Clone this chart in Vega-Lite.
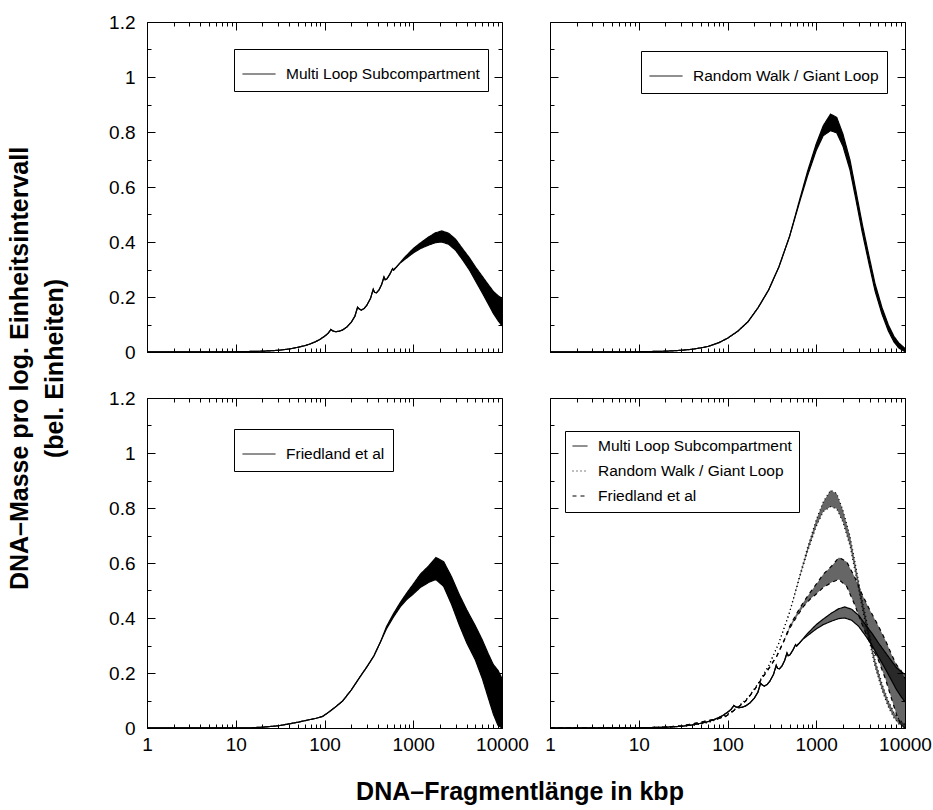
{
  "$schema": "https://vega.github.io/schema/vega-lite/v6.json",
  "padding": {"left": 8, "top": 12, "right": 20, "bottom": 4},
  "config": {
    "font": "Liberation Sans",
    "view": {"stroke": "black", "strokeWidth": 1},
    "axis": {"labelFontSize": 19, "labelFont": "Liberation Sans", "labelColor": "black", "tickColor": "black", "tickWidth": 1, "domain": false, "grid": false, "labelOverlap": false, "labelBound": false},
    "legend": {"strokeColor": "black", "fillColor": "white", "padding": 8, "symbolType": "stroke", "symbolStrokeWidth": 1, "symbolStrokeColor": "black", "labelFontSize": 15.5, "labelFont": "Liberation Sans", "labelColor": "black", "labelOffset": 10, "rowPadding": 5, "labelLimit": 400}
  },
  "resolve": {"scale": {"strokeDash": "independent"}, "legend": {"strokeDash": "independent"}},
  "datasets": {
    "curves": [
      {"s":"ML","x":1,"lo":0.001,"hi":0.001},{"s":"ML","x":2,"lo":0.001,"hi":0.001},{"s":"ML","x":5,"lo":0.001,"hi":0.001},{"s":"ML","x":10,"lo":0.001,"hi":0.001},{"s":"ML","x":15,"lo":0.002,"hi":0.002},{"s":"ML","x":20,"lo":0.003,"hi":0.003},{"s":"ML","x":30,"lo":0.006,"hi":0.006},{"s":"ML","x":40,"lo":0.011,"hi":0.011},{"s":"ML","x":50,"lo":0.017,"hi":0.017},{"s":"ML","x":60,"lo":0.023,"hi":0.023},{"s":"ML","x":70,"lo":0.03,"hi":0.03},{"s":"ML","x":80,"lo":0.038,"hi":0.038},{"s":"ML","x":90,"lo":0.047,"hi":0.047},{"s":"ML","x":100,"lo":0.057,"hi":0.057},{"s":"ML","x":110,"lo":0.068,"hi":0.068},{"s":"ML","x":118,"lo":0.082,"hi":0.082},{"s":"ML","x":123,"lo":0.077,"hi":0.077},{"s":"ML","x":132,"lo":0.074,"hi":0.074},{"s":"ML","x":145,"lo":0.075,"hi":0.075},{"s":"ML","x":160,"lo":0.08,"hi":0.08},{"s":"ML","x":180,"lo":0.092,"hi":0.092},{"s":"ML","x":200,"lo":0.108,"hi":0.108},{"s":"ML","x":220,"lo":0.13,"hi":0.13},{"s":"ML","x":236,"lo":0.163,"hi":0.163},{"s":"ML","x":245,"lo":0.157,"hi":0.157},{"s":"ML","x":260,"lo":0.152,"hi":0.152},{"s":"ML","x":280,"lo":0.158,"hi":0.158},{"s":"ML","x":300,"lo":0.17,"hi":0.17},{"s":"ML","x":330,"lo":0.195,"hi":0.195},{"s":"ML","x":354,"lo":0.228,"hi":0.228},{"s":"ML","x":366,"lo":0.217,"hi":0.217},{"s":"ML","x":385,"lo":0.215,"hi":0.215},{"s":"ML","x":410,"lo":0.225,"hi":0.225},{"s":"ML","x":440,"lo":0.245,"hi":0.245},{"s":"ML","x":468,"lo":0.273,"hi":0.273},{"s":"ML","x":482,"lo":0.263,"hi":0.263},{"s":"ML","x":505,"lo":0.266,"hi":0.266},{"s":"ML","x":545,"lo":0.283,"hi":0.283},{"s":"ML","x":585,"lo":0.303,"hi":0.303},{"s":"ML","x":600,"lo":0.298,"hi":0.298},{"s":"ML","x":650,"lo":0.31,"hi":0.31},{"s":"ML","x":700,"lo":0.322,"hi":0.322},{"s":"ML","x":800,"lo":0.336,"hi":0.344},{"s":"ML","x":900,"lo":0.349,"hi":0.361},{"s":"ML","x":1000,"lo":0.36,"hi":0.376},{"s":"ML","x":1200,"lo":0.376,"hi":0.396},{"s":"ML","x":1500,"lo":0.389,"hi":0.419},{"s":"ML","x":1800,"lo":0.398,"hi":0.434},{"s":"ML","x":2100,"lo":0.4,"hi":0.44},{"s":"ML","x":2500,"lo":0.392,"hi":0.432},{"s":"ML","x":3000,"lo":0.37,"hi":0.41},{"s":"ML","x":3600,"lo":0.335,"hi":0.375},{"s":"ML","x":4300,"lo":0.298,"hi":0.342},{"s":"ML","x":5000,"lo":0.26,"hi":0.31},{"s":"ML","x":6000,"lo":0.215,"hi":0.275},{"s":"ML","x":7000,"lo":0.175,"hi":0.245},{"s":"ML","x":8000,"lo":0.14,"hi":0.22},{"s":"ML","x":9000,"lo":0.115,"hi":0.205},{"s":"ML","x":10000,"lo":0.095,"hi":0.195},
      {"s":"RW","x":1,"lo":0.001,"hi":0.001},{"s":"RW","x":5,"lo":0.001,"hi":0.001},{"s":"RW","x":10,"lo":0.001,"hi":0.001},{"s":"RW","x":15,"lo":0.002,"hi":0.002},{"s":"RW","x":20,"lo":0.003,"hi":0.003},{"s":"RW","x":30,"lo":0.006,"hi":0.006},{"s":"RW","x":40,"lo":0.01,"hi":0.01},{"s":"RW","x":50,"lo":0.015,"hi":0.015},{"s":"RW","x":60,"lo":0.02,"hi":0.02},{"s":"RW","x":80,"lo":0.034,"hi":0.034},{"s":"RW","x":100,"lo":0.05,"hi":0.05},{"s":"RW","x":130,"lo":0.075,"hi":0.075},{"s":"RW","x":170,"lo":0.11,"hi":0.11},{"s":"RW","x":220,"lo":0.16,"hi":0.16},{"s":"RW","x":290,"lo":0.225,"hi":0.225},{"s":"RW","x":380,"lo":0.31,"hi":0.31},{"s":"RW","x":500,"lo":0.42,"hi":0.42},{"s":"RW","x":650,"lo":0.546,"hi":0.554},{"s":"RW","x":800,"lo":0.642,"hi":0.658},{"s":"RW","x":1000,"lo":0.733,"hi":0.757},{"s":"RW","x":1200,"lo":0.787,"hi":0.823},{"s":"RW","x":1450,"lo":0.805,"hi":0.865},{"s":"RW","x":1700,"lo":0.797,"hi":0.853},{"s":"RW","x":2000,"lo":0.748,"hi":0.792},{"s":"RW","x":2400,"lo":0.662,"hi":0.698},{"s":"RW","x":2800,"lo":0.554,"hi":0.586},{"s":"RW","x":3300,"lo":0.435,"hi":0.465},{"s":"RW","x":3900,"lo":0.326,"hi":0.354},{"s":"RW","x":4600,"lo":0.222,"hi":0.248},{"s":"RW","x":5500,"lo":0.138,"hi":0.162},{"s":"RW","x":6500,"lo":0.076,"hi":0.098},{"s":"RW","x":7500,"lo":0.037,"hi":0.057},{"s":"RW","x":8500,"lo":0.015,"hi":0.033},{"s":"RW","x":10000,"lo":0.001,"hi":0.013},
      {"s":"FR","x":1,"lo":0.001,"hi":0.001},{"s":"FR","x":5,"lo":0.001,"hi":0.001},{"s":"FR","x":10,"lo":0.001,"hi":0.001},{"s":"FR","x":15,"lo":0.001,"hi":0.001},{"s":"FR","x":20,"lo":0.003,"hi":0.003},{"s":"FR","x":30,"lo":0.008,"hi":0.008},{"s":"FR","x":40,"lo":0.015,"hi":0.015},{"s":"FR","x":50,"lo":0.021,"hi":0.021},{"s":"FR","x":65,"lo":0.029,"hi":0.029},{"s":"FR","x":80,"lo":0.035,"hi":0.035},{"s":"FR","x":95,"lo":0.042,"hi":0.042},{"s":"FR","x":110,"lo":0.056,"hi":0.056},{"s":"FR","x":130,"lo":0.074,"hi":0.074},{"s":"FR","x":160,"lo":0.098,"hi":0.098},{"s":"FR","x":200,"lo":0.138,"hi":0.138},{"s":"FR","x":250,"lo":0.185,"hi":0.185},{"s":"FR","x":300,"lo":0.222,"hi":0.222},{"s":"FR","x":360,"lo":0.262,"hi":0.262},{"s":"FR","x":430,"lo":0.315,"hi":0.315},{"s":"FR","x":500,"lo":0.361,"hi":0.369},{"s":"FR","x":600,"lo":0.404,"hi":0.416},{"s":"FR","x":720,"lo":0.442,"hi":0.458},{"s":"FR","x":850,"lo":0.468,"hi":0.492},{"s":"FR","x":1000,"lo":0.487,"hi":0.523},{"s":"FR","x":1200,"lo":0.511,"hi":0.559},{"s":"FR","x":1500,"lo":0.53,"hi":0.59},{"s":"FR","x":1800,"lo":0.54,"hi":0.62},{"s":"FR","x":2200,"lo":0.515,"hi":0.605},{"s":"FR","x":2700,"lo":0.45,"hi":0.55},{"s":"FR","x":3300,"lo":0.375,"hi":0.485},{"s":"FR","x":4000,"lo":0.31,"hi":0.43},{"s":"FR","x":5000,"lo":0.248,"hi":0.372},{"s":"FR","x":6000,"lo":0.18,"hi":0.32},{"s":"FR","x":7000,"lo":0.11,"hi":0.27},{"s":"FR","x":8000,"lo":0.05,"hi":0.23},{"s":"FR","x":9000,"lo":0.01,"hi":0.21},{"s":"FR","x":10000,"lo":0,"hi":0.18}
    ]
  },
  "title": {"text": ["DNA–Masse pro log. Einheitsintervall", "(bel. Einheiten)"], "orient": "left", "anchor": "middle", "fontSize": 25, "fontWeight": "bold", "font": "Liberation Sans", "color": "black", "lineHeight": 35, "offset": 40, "dx": 40},
  "vconcat": [
    {
      "title": {"text": "DNA–Fragmentlänge in kbp", "orient": "bottom", "anchor": "middle", "fontSize": 25, "fontWeight": "bold", "font": "Liberation Sans", "color": "black", "offset": 21},
      "spacing": 25,
      "resolve": {"scale": {"strokeDash": "independent"}, "legend": {"strokeDash": "independent"}},
      "vconcat": [
        {
          "spacing": 48,
          "bounds": "flush",
          "resolve": {"scale": {"strokeDash": "independent"}, "legend": {"strokeDash": "independent"}},
          "hconcat": [
            {
              "width": 355, "height": 330,
              "data": {"name": "curves"},
              "transform": [{"filter": "datum.s == 'ML'"}],
              "layer": [
                {"mark": {"type": "area", "color": "black", "opacity": 1},
                 "encoding": {
                   "x": {"field": "x", "type": "quantitative", "scale": {"type": "log", "domain": [1, 10000], "nice": false}, "axis": {"orient": "bottom", "labels": false, "title": null, "values": [1,2,3,4,5,6,7,8,9,10,20,30,40,50,60,70,80,90,100,200,300,400,500,600,700,800,900,1000,2000,3000,4000,5000,6000,7000,8000,9000,10000], "tickSize": {"condition": {"test": "indexof([1,10,100,1000,10000], datum.value) >= 0", "value": -8}, "value": -4}}},
                   "y": {"field": "lo", "type": "quantitative", "scale": {"domain": [0, 1.2], "nice": false, "zero": false}, "axis": {"orient": "left", "title": null, "values": [0,0.1,0.2,0.3,0.4,0.5,0.6,0.7,0.8,0.9,1,1.1,1.2], "labelExpr": "round(datum.value*10)%2==0 ? format(datum.value,'~g') : ''", "labelPadding": 20, "tickSize": {"condition": {"test": "round(datum.value*10)%2==0", "value": -8}, "value": -4}}},
                   "y2": {"field": "hi"},
                   "detail": {"field": "s"}
                 }},
                {"mark": {"type": "line", "color": "black", "strokeWidth": 1.2},
                 "encoding": {
                   "x": {"field": "x", "type": "quantitative", "axis": {"orient": "top", "labels": false, "title": null, "values": [1,2,3,4,5,6,7,8,9,10,20,30,40,50,60,70,80,90,100,200,300,400,500,600,700,800,900,1000,2000,3000,4000,5000,6000,7000,8000,9000,10000], "tickSize": {"condition": {"test": "indexof([1,10,100,1000,10000], datum.value) >= 0", "value": -8}, "value": -4}}},
                   "y": {"field": "hi", "type": "quantitative", "axis": {"orient": "right", "labels": false, "title": null, "values": [0,0.1,0.2,0.3,0.4,0.5,0.6,0.7,0.8,0.9,1,1.1,1.2], "tickSize": {"condition": {"test": "round(datum.value*10)%2==0", "value": -8}, "value": -4}}},
                   "strokeDash": {"field": "s", "type": "nominal", "scale": {"domain": ["ML"], "range": [[1, 0]]}, "legend": {"title": null, "orient": "none", "legendX": 87, "legendY": 27, "symbolSize": 1089, "labelExpr": "'Multi Loop Subcompartment'"}}
                 }},
                {"mark": {"type": "line", "color": "black", "strokeWidth": 1.2},
                 "encoding": {
                   "x": {"field": "x", "type": "quantitative", "axis": null},
                   "y": {"field": "lo", "type": "quantitative", "axis": null},
                   "strokeDash": {"field": "s", "type": "nominal"}
                 }}
              ],
              "resolve": {"axis": {"x": "independent", "y": "independent"}}
            },
            {
              "width": 355, "height": 330,
              "data": {"name": "curves"},
              "transform": [{"filter": "datum.s == 'RW'"}],
              "layer": [
                {"mark": {"type": "area", "color": "black", "opacity": 1},
                 "encoding": {
                   "x": {"field": "x", "type": "quantitative", "scale": {"type": "log", "domain": [1, 10000], "nice": false}, "axis": {"orient": "bottom", "labels": false, "title": null, "values": [1,2,3,4,5,6,7,8,9,10,20,30,40,50,60,70,80,90,100,200,300,400,500,600,700,800,900,1000,2000,3000,4000,5000,6000,7000,8000,9000,10000], "tickSize": {"condition": {"test": "indexof([1,10,100,1000,10000], datum.value) >= 0", "value": -8}, "value": -4}}},
                   "y": {"field": "lo", "type": "quantitative", "scale": {"domain": [0, 1.2], "nice": false, "zero": false}, "axis": {"orient": "left", "labels": false, "title": null, "values": [0,0.1,0.2,0.3,0.4,0.5,0.6,0.7,0.8,0.9,1,1.1,1.2], "tickSize": {"condition": {"test": "round(datum.value*10)%2==0", "value": -8}, "value": -4}}},
                   "y2": {"field": "hi"},
                   "detail": {"field": "s"}
                 }},
                {"mark": {"type": "line", "color": "black", "strokeWidth": 1.2},
                 "encoding": {
                   "x": {"field": "x", "type": "quantitative", "axis": {"orient": "top", "labels": false, "title": null, "values": [1,2,3,4,5,6,7,8,9,10,20,30,40,50,60,70,80,90,100,200,300,400,500,600,700,800,900,1000,2000,3000,4000,5000,6000,7000,8000,9000,10000], "tickSize": {"condition": {"test": "indexof([1,10,100,1000,10000], datum.value) >= 0", "value": -8}, "value": -4}}},
                   "y": {"field": "hi", "type": "quantitative", "axis": {"orient": "right", "labels": false, "title": null, "values": [0,0.1,0.2,0.3,0.4,0.5,0.6,0.7,0.8,0.9,1,1.1,1.2], "tickSize": {"condition": {"test": "round(datum.value*10)%2==0", "value": -8}, "value": -4}}},
                   "strokeDash": {"field": "s", "type": "nominal", "scale": {"domain": ["RW"], "range": [[1, 0]]}, "legend": {"title": null, "orient": "none", "legendX": 91, "legendY": 29, "symbolSize": 1089, "labelExpr": "'Random Walk / Giant Loop'"}}
                 }},
                {"mark": {"type": "line", "color": "black", "strokeWidth": 1.2},
                 "encoding": {
                   "x": {"field": "x", "type": "quantitative", "axis": null},
                   "y": {"field": "lo", "type": "quantitative", "axis": null},
                   "strokeDash": {"field": "s", "type": "nominal"}
                 }}
              ],
              "resolve": {"axis": {"x": "independent", "y": "independent"}}
            }
          ]
        },
        {
          "spacing": 48,
          "bounds": "flush",
          "resolve": {"scale": {"strokeDash": "independent"}, "legend": {"strokeDash": "independent"}},
          "hconcat": [
            {
              "width": 355, "height": 330,
              "data": {"name": "curves"},
              "transform": [{"filter": "datum.s == 'FR'"}],
              "layer": [
                {"mark": {"type": "area", "color": "black", "opacity": 1},
                 "encoding": {
                   "x": {"field": "x", "type": "quantitative", "scale": {"type": "log", "domain": [1, 10000], "nice": false}, "axis": {"orient": "bottom", "title": null, "values": [1,2,3,4,5,6,7,8,9,10,20,30,40,50,60,70,80,90,100,200,300,400,500,600,700,800,900,1000,2000,3000,4000,5000,6000,7000,8000,9000,10000], "labelExpr": "indexof([1,10,100,1000,10000], datum.value) >= 0 ? format(datum.value,'d') : ''", "labelFlush": false, "labelPadding": 15, "tickSize": {"condition": {"test": "indexof([1,10,100,1000,10000], datum.value) >= 0", "value": -8}, "value": -4}}},
                   "y": {"field": "lo", "type": "quantitative", "scale": {"domain": [0, 1.2], "nice": false, "zero": false}, "axis": {"orient": "left", "title": null, "values": [0,0.1,0.2,0.3,0.4,0.5,0.6,0.7,0.8,0.9,1,1.1,1.2], "labelExpr": "round(datum.value*10)%2==0 ? format(datum.value,'~g') : ''", "labelPadding": 20, "tickSize": {"condition": {"test": "round(datum.value*10)%2==0", "value": -8}, "value": -4}}},
                   "y2": {"field": "hi"},
                   "detail": {"field": "s"}
                 }},
                {"mark": {"type": "line", "color": "black", "strokeWidth": 1.2},
                 "encoding": {
                   "x": {"field": "x", "type": "quantitative", "axis": {"orient": "top", "labels": false, "title": null, "values": [1,2,3,4,5,6,7,8,9,10,20,30,40,50,60,70,80,90,100,200,300,400,500,600,700,800,900,1000,2000,3000,4000,5000,6000,7000,8000,9000,10000], "tickSize": {"condition": {"test": "indexof([1,10,100,1000,10000], datum.value) >= 0", "value": -8}, "value": -4}}},
                   "y": {"field": "hi", "type": "quantitative", "axis": {"orient": "right", "labels": false, "title": null, "values": [0,0.1,0.2,0.3,0.4,0.5,0.6,0.7,0.8,0.9,1,1.1,1.2], "tickSize": {"condition": {"test": "round(datum.value*10)%2==0", "value": -8}, "value": -4}}},
                   "strokeDash": {"field": "s", "type": "nominal", "scale": {"domain": ["FR"], "range": [[1, 0]]}, "legend": {"title": null, "orient": "none", "legendX": 87, "legendY": 31, "symbolSize": 1089, "labelExpr": "'Friedland et al'"}}
                 }},
                {"mark": {"type": "line", "color": "black", "strokeWidth": 1.2},
                 "encoding": {
                   "x": {"field": "x", "type": "quantitative", "axis": null},
                   "y": {"field": "lo", "type": "quantitative", "axis": null},
                   "strokeDash": {"field": "s", "type": "nominal"}
                 }}
              ],
              "resolve": {"axis": {"x": "independent", "y": "independent"}}
            },
            {
              "width": 355, "height": 330,
              "data": {"name": "curves"},
              "layer": [
                {"mark": {"type": "area", "color": "black", "opacity": 0.6},
                 "encoding": {
                   "x": {"field": "x", "type": "quantitative", "scale": {"type": "log", "domain": [1, 10000], "nice": false}, "axis": {"orient": "bottom", "title": null, "values": [1,2,3,4,5,6,7,8,9,10,20,30,40,50,60,70,80,90,100,200,300,400,500,600,700,800,900,1000,2000,3000,4000,5000,6000,7000,8000,9000,10000], "labelExpr": "indexof([1,10,100,1000,10000], datum.value) >= 0 ? format(datum.value,'d') : ''", "labelFlush": false, "labelPadding": 15, "tickSize": {"condition": {"test": "indexof([1,10,100,1000,10000], datum.value) >= 0", "value": -8}, "value": -4}}},
                   "y": {"field": "lo", "type": "quantitative", "scale": {"domain": [0, 1.2], "nice": false, "zero": false}, "axis": {"orient": "left", "labels": false, "title": null, "values": [0,0.1,0.2,0.3,0.4,0.5,0.6,0.7,0.8,0.9,1,1.1,1.2], "tickSize": {"condition": {"test": "round(datum.value*10)%2==0", "value": -8}, "value": -4}}},
                   "y2": {"field": "hi"},
                   "detail": {"field": "s"}
                 }},
                {"mark": {"type": "line", "color": "black", "strokeWidth": 1.2},
                 "encoding": {
                   "x": {"field": "x", "type": "quantitative", "axis": {"orient": "top", "labels": false, "title": null, "values": [1,2,3,4,5,6,7,8,9,10,20,30,40,50,60,70,80,90,100,200,300,400,500,600,700,800,900,1000,2000,3000,4000,5000,6000,7000,8000,9000,10000], "tickSize": {"condition": {"test": "indexof([1,10,100,1000,10000], datum.value) >= 0", "value": -8}, "value": -4}}},
                   "y": {"field": "hi", "type": "quantitative", "axis": {"orient": "right", "labels": false, "title": null, "values": [0,0.1,0.2,0.3,0.4,0.5,0.6,0.7,0.8,0.9,1,1.1,1.2], "tickSize": {"condition": {"test": "round(datum.value*10)%2==0", "value": -8}, "value": -4}}},
                   "strokeDash": {"field": "s", "type": "nominal", "scale": {"domain": ["ML", "RW", "FR"], "range": [[1, 0], [1, 3], [4, 4]]}, "legend": {"title": null, "orient": "none", "legendX": 15, "legendY": 33, "symbolSize": 225, "padding": 7, "rowPadding": 8, "labelExpr": "datum.value == 'ML' ? 'Multi Loop Subcompartment' : datum.value == 'RW' ? 'Random Walk / Giant Loop' : 'Friedland et al'"}}
                 }},
                {"mark": {"type": "line", "color": "black", "strokeWidth": 1.2},
                 "encoding": {
                   "x": {"field": "x", "type": "quantitative", "axis": null},
                   "y": {"field": "lo", "type": "quantitative", "axis": null},
                   "strokeDash": {"field": "s", "type": "nominal"}
                 }}
              ],
              "resolve": {"axis": {"x": "independent", "y": "independent"}}
            }
          ]
        }
      ]
    }
  ]
}
